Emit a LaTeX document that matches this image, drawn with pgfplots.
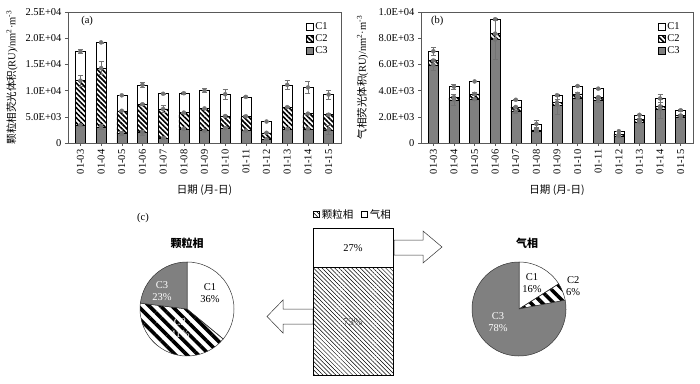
\documentclass[border=0pt]{standalone}
\usepackage{fontspec}
\setmainfont{Liberation Serif}
\newfontfamily\cjk{Noto Sans CJK SC}
\usepackage{pgfplots}
\pgfplotsset{compat=1.18}
\usepackage{pgfplotstable}
\usetikzlibrary{patterns.meta}

% particle phase (a): C3, C2, C1 segments
\pgfplotstableread{
x C3 C2 C1
0 3430 8470 5550
1 3100 11200 4900
2 1800 4350 2950
3 2000 5400 3700
4 950 5550 2900
5 2700 3100 3700
6 2350 4250 3400
7 2850 2300 4150
8 2350 2750 3700
9 750 1200 2150
10 2650 4200 4250
11 2700 2900 5000
12 2500 2900 3850
}\dataA
\pgfplotstableread{
x y e
0 3430 200
0 11900 1000
0 17450 350
1 3100 400
1 14300 1200
1 19200 100
2 1800 400
2 6150 100
2 9100 50
3 2000 500
3 7400 200
3 11100 500
4 950 100
4 6500 600
4 9400 50
5 2700 100
5 5800 100
5 9500 150
6 2350 100
6 6600 100
6 10000 350
7 2850 100
7 5150 200
7 9300 900
8 2350 100
8 5100 100
8 8800 150
9 750 100
9 1950 100
9 4100 50
10 2650 100
10 6850 100
10 11100 800
11 2700 200
11 5600 100
11 10600 1200
12 2500 800
12 5400 200
12 9250 900
}\errA
% gas phase (b)
\pgfplotstableread{
x C3 C2 C1
0 5960 340 700
1 3300 200 800
2 3350 400 950
3 7900 450 1100
4 2400 350 550
5 900 100 450
6 2900 200 550
7 3450 300 600
8 3300 200 650
9 550 100 250
10 1600 200 350
11 2600 200 600
12 2000 100 400
}\dataB
\pgfplotstableread{
x y e
0 5960 400
0 6300 100
0 7000 300
1 3300 400
1 3500 100
1 4300 200
2 3350 100
2 3750 100
2 4700 20
3 7900 1500
3 8350 50
3 9450 50
4 2400 100
4 2750 50
4 3300 50
5 900 100
5 1000 100
5 1450 250
6 2900 700
6 3100 250
6 3650 50
7 3450 100
7 3750 100
7 4350 50
8 3300 200
8 3500 100
8 4150 20
9 550 50
9 650 50
9 900 30
10 1600 50
10 1800 50
10 2150 30
11 2600 700
11 2800 100
11 3400 300
12 2000 200
12 2100 100
12 2500 50
}\errB

\definecolor{cgray}{RGB}{128,128,128}
\pgfplotsset{
  geom/.style={anchor=south west, scale only axis, height=131pt,
    xmin=-0.6, xmax=12.6, ymin=0},
  panel/.style={geom, ybar stacked, bar width=10pt,
    scaled y ticks=false,
    xtick={0,...,12},
    xticklabels={01-03,01-04,01-05,01-06,01-07,01-08,01-09,01-10,01-11,01-12,01-13,01-14,01-15},
    x tick label style={rotate=90, anchor=east},
    tick align=outside, major tick length=3pt,
    xtick pos=lower, ytick pos=left,
    axis line style={black!65}, every tick/.style={black!65},
    tick label style={font=\fontsize{10.5}{12}\selectfont},
    label style={font=\fontsize{10.5}{12}\selectfont},
    xlabel={\cjk 日期 (月-日)},
    xlabel style={at={(axis description cs:0.5,-0.36)}, anchor=center},
    legend style={at={(0.97,0.955)}, anchor=north east, draw=none, fill=none,
      font=\fontsize{10.5}{12.5}\selectfont, row sep=0pt},
    legend image code/.code={\draw[#1] (0pt,-3.5pt) rectangle (7pt,3.5pt);},
    reverse legend},
  errpanel/.style={geom, hide axis},
  errplot/.style={only marks, mark=none, black!55,
    error bars/.cd, y dir=both, y explicit,
    error bar style={line width=0.6pt, black!55},
    error mark options={rotate=90, mark size=2.5pt, line width=0.6pt, black!55}},
  c1/.style={fill=white, draw=black, line width=0.5pt},
  c2/.style={draw=black, line width=0.5pt, pattern={Lines[angle=-45,distance=3.5pt,line width=1.6pt]}},
  c3/.style={fill=cgray, draw=black, line width=0.5pt},
}

\begin{document}
\begin{tikzpicture}[x=1pt,y=1pt]
\path[use as bounding box] (0,0) rectangle (700,383);

% ---------- (a) ----------
\begin{axis}[panel, at={(68pt,240pt)}, width=273pt, ymax=25000,
  ytick={0,5000,10000,15000,20000,25000},
  yticklabels={0,5.0E+03,1.0E+04,1.5E+04,2.0E+04,2.5E+04},
  ylabel={{\cjk 颗粒相荧光体积}(RU)/nm\textsuperscript{2}·m\textsuperscript{-3}},
  ylabel style={at={(axis description cs:-0.205,0.5)}, anchor=center}]
\addplot[c3] table[x=x,y=C3]{\dataA};
\addplot[c2] table[x=x,y=C2]{\dataA};
\addplot[c1] table[x=x,y=C1]{\dataA};
\legend{C3,C2,C1}
\node[font=\fontsize{10.5}{12}\selectfont] at (axis description cs:0.07,0.93) {(a)};
\end{axis}
\begin{axis}[errpanel, at={(68pt,240pt)}, width=273pt, ymax=25000]
\addplot[errplot] table[x=x,y=y,y error=e]{\errA};
\end{axis}

% ---------- (b) ----------
\begin{axis}[panel, at={(421pt,240pt)}, width=272pt, ymax=10000,
  ytick={0,2000,4000,6000,8000,10000},
  yticklabels={0,2.0E+03,4.0E+03,6.0E+03,8.0E+03,1.0E+04},
  ylabel={{\cjk 气相荧光体积}(RU)/nm\textsuperscript{2}·m\textsuperscript{-3}},
  ylabel style={at={(axis description cs:-0.215,0.5)}, anchor=center}]
\addplot[c3] table[x=x,y=C3]{\dataB};
\addplot[c2] table[x=x,y=C2]{\dataB};
\addplot[c1] table[x=x,y=C1]{\dataB};
\legend{C3,C2,C1}
\node[font=\fontsize{10.5}{12}\selectfont] at (axis description cs:0.06,0.93) {(b)};
\end{axis}
\begin{axis}[errpanel, at={(421pt,240pt)}, width=272pt, ymax=10000]
\addplot[errplot] table[x=x,y=y,y error=e]{\errB};
\end{axis}

% ---------- (c) ----------
\node[font=\fontsize{10.5}{12}\selectfont] at (143,165) {(c)};

% arrows
\draw[black!80, fill=white, line width=0.5pt] (394,143) -- (423,143) -- (423,152) -- (442,136) -- (423,120) -- (423,128) -- (394,128) -- cycle;
\draw[black!80, fill=white, line width=0.5pt] (313,74) -- (283,74) -- (283,83) -- (267,66.5) -- (283,50) -- (283,59) -- (313,59) -- cycle;

% centre stacked bar
\begin{axis}[at={(313pt,8pt)}, anchor=south west, scale only axis, width=80pt, height=147pt,
  hide axis, clip=false, ybar stacked, bar width=80pt,
  xmin=-0.5, xmax=0.5, ymin=0, ymax=100,
  legend style={at={(0.5,1)}, anchor=south, yshift=4pt, draw=none, fill=none,
    legend columns=2, font=\fontsize{10.5}{12}\selectfont,
    /tikz/every even column/.append style={column sep=6pt}},
  legend image code/.code={\draw[#1] (0pt,-3pt) rectangle (6pt,3pt);}]
\addplot[draw=black, line width=0.5pt, pattern={Lines[angle=-45,distance=3pt,line width=0.5pt]}] coordinates {(0,73)};
\addplot[draw=black, line width=0.5pt, fill=white] coordinates {(0,27)};
\legend{{\cjk 颗粒相},{\cjk 气相}}
\end{axis}
\node[font=\fontsize{10.5}{12}\selectfont] at (353,135) {27\%};
\node[font=\fontsize{10.5}{12}\selectfont, text=black!70] at (353,61) {73\%};

% left pie: C1 36, C2 41, C3 23
\begin{axis}[at={(140pt,27pt)}, anchor=south west, scale only axis, width=94pt, height=94pt,
  hide axis, clip=false, xmin=-1, xmax=1, ymin=-1, ymax=1]
\filldraw[fill=white, draw=black!80, line width=0.5pt] (axis cs:0,0) -- ++(90:47pt) arc[start angle=90, end angle={90-3.6*36}, radius=47pt] -- cycle;
\filldraw[draw=black!80, line width=0.5pt, pattern={Lines[angle=-45,distance=8pt,line width=3.6pt]}] (axis cs:0,0) -- ++({90-3.6*36}:47pt) arc[start angle={90-3.6*36}, end angle={90-3.6*77}, radius=47pt] -- cycle;
\filldraw[fill=cgray, draw=black!80, line width=0.5pt] (axis cs:0,0) -- ++({90-3.6*77}:47pt) arc[start angle={90-3.6*77}, end angle=-270, radius=47pt] -- cycle;
\end{axis}
\node[font=\fontsize{11}{13}\selectfont\cjk\bfseries] at (187,140) {颗粒相};
\node[font=\fontsize{10.5}{12}\selectfont, align=center, text=white, inner sep=0pt] at (162,92) {C3\\23\%};
\node[font=\fontsize{10.5}{12}\selectfont, align=center, inner sep=0pt] at (210,90) {C1\\36\%};
\node[font=\fontsize{10.5}{12}\selectfont, align=center, text=white, inner sep=0pt] at (180,55) {C2\\41\%};

% right pie: C1 16, C2 6, C3 78
\begin{axis}[at={(472pt,27pt)}, anchor=south west, scale only axis, width=94pt, height=94pt,
  hide axis, clip=false, xmin=-1, xmax=1, ymin=-1, ymax=1]
\filldraw[fill=white, draw=black!80, line width=0.5pt] (axis cs:0,0) -- ++(90:47pt) arc[start angle=90, end angle={90-3.6*16}, radius=47pt] -- cycle;
\filldraw[draw=black!80, line width=0.5pt, pattern={Lines[angle=-45,distance=8pt,line width=3.6pt]}] (axis cs:0,0) -- ++({90-3.6*16}:47pt) arc[start angle={90-3.6*16}, end angle={90-3.6*22}, radius=47pt] -- cycle;
\filldraw[fill=cgray, draw=black!80, line width=0.5pt] (axis cs:0,0) -- ++({90-3.6*22}:47pt) arc[start angle={90-3.6*22}, end angle=-270, radius=47pt] -- cycle;
\end{axis}
\node[font=\fontsize{11}{13}\selectfont\cjk\bfseries] at (527,140) {气相};
\node[font=\fontsize{10.5}{12}\selectfont, align=center, inner sep=0pt] at (532,100) {C1\\16\%};
\node[font=\fontsize{10.5}{12}\selectfont, align=center, inner sep=0pt, anchor=west] at (566,97) {C2\\6\%};
\node[font=\fontsize{10.5}{12}\selectfont, align=center, text=white, inner sep=0pt] at (498,61) {C3\\78\%};
\end{tikzpicture}
\end{document}
